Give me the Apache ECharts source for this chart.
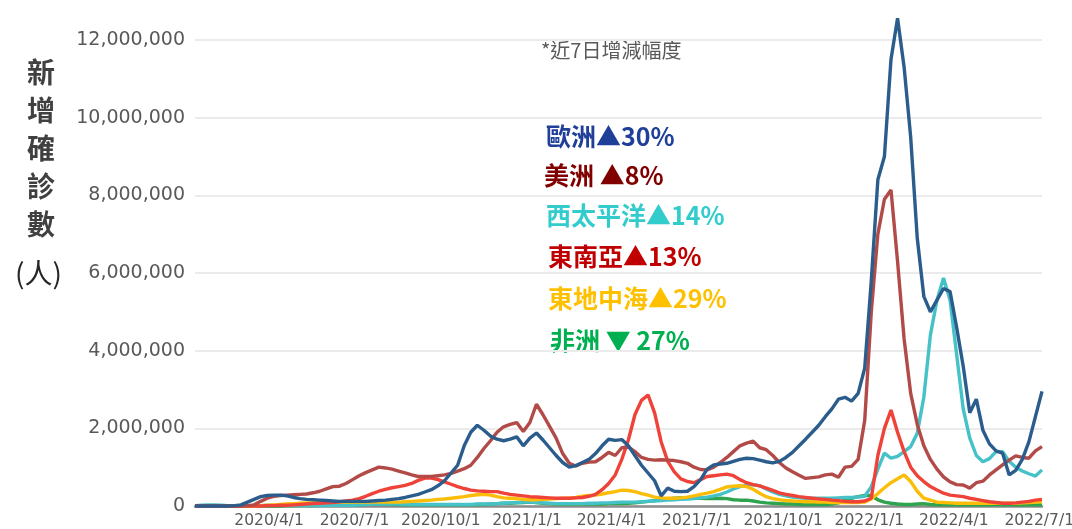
<!DOCTYPE html>
<html>
<head>
<meta charset="utf-8">
<script src="https://cdn.jsdelivr.net/npm/echarts@6/dist/echarts.min.js"></script>
<style>
  html, body { margin: 0; padding: 0; background: #fff; }
  #chart { width: 1072px; height: 529px; }
</style>
</head>
<body>
<div id="chart"></div>
<script>
// 每週新增確診數（單位：百萬人），自 2020/1/13 起逐週
var startDate = new Date(2020, 0, 13);
var weekCount = 130;

var europe = [
  0, 0, 0, 0, 0, 0, 0.01, 0.03, 0.1, 0.17,
  0.24, 0.27, 0.28, 0.28, 0.26, 0.22, 0.19, 0.17, 0.16, 0.15,
  0.14, 0.13, 0.12, 0.12, 0.12, 0.12, 0.12, 0.13, 0.14, 0.15,
  0.17, 0.19, 0.22, 0.26, 0.3, 0.36, 0.42, 0.52, 0.65, 0.85,
  1.05, 1.55, 1.9, 2.08, 1.95, 1.8, 1.72, 1.68, 1.72, 1.78,
  1.55, 1.75, 1.88, 1.7, 1.5, 1.3, 1.12, 1.0, 1.04, 1.12,
  1.2, 1.35, 1.55, 1.72, 1.69, 1.71, 1.55, 1.3, 1.05, 0.85,
  0.65, 0.26, 0.46, 0.38, 0.37, 0.38, 0.5, 0.68, 0.95, 1.06,
  1.08, 1.1, 1.15, 1.2, 1.23, 1.22, 1.18, 1.14, 1.11, 1.15,
  1.25, 1.38, 1.55, 1.72, 1.9, 2.08, 2.3, 2.5, 2.75, 2.8,
  2.7, 2.9, 3.55, 5.8, 8.4, 9.0, 11.5, 12.56, 11.3, 9.5,
  6.9, 5.4, 5.0, 5.3, 5.6, 5.52, 4.6, 3.6, 2.4, 2.75,
  1.95, 1.6, 1.42, 1.36, 0.8, 0.92, 1.2, 1.65, 2.3, 2.95
];
var americas = [
  0, 0, 0, 0, 0, 0, 0, 0, 0.01, 0.03,
  0.12, 0.2, 0.25, 0.27, 0.28, 0.29, 0.3, 0.31, 0.34, 0.38,
  0.44, 0.5, 0.51, 0.58, 0.68, 0.78, 0.86, 0.93, 1.0, 0.98,
  0.95, 0.9, 0.85, 0.8, 0.76, 0.76, 0.76, 0.78, 0.8, 0.84,
  0.9, 0.96, 1.05, 1.25, 1.48, 1.68, 1.9, 2.04, 2.1, 2.15,
  1.92, 2.15, 2.62, 2.35, 2.05, 1.75, 1.35, 1.1, 1.03, 1.1,
  1.13, 1.14, 1.25, 1.38, 1.3, 1.5, 1.52, 1.4, 1.25, 1.2,
  1.18, 1.19, 1.18, 1.17, 1.14, 1.1, 1.0, 0.94, 0.93, 1.0,
  1.12, 1.25, 1.4, 1.55, 1.62, 1.67, 1.5, 1.45, 1.3, 1.12,
  0.98, 0.88, 0.79, 0.71, 0.73, 0.75, 0.8, 0.82, 0.74, 1.0,
  1.02, 1.2, 2.2, 5.0, 7.0, 7.9, 8.14, 6.3, 4.3, 2.9,
  2.1, 1.55, 1.2, 0.95, 0.75, 0.62, 0.55, 0.54, 0.46, 0.6,
  0.64, 0.8, 0.93, 1.06, 1.18, 1.29, 1.25, 1.23, 1.42, 1.53
];
var westPacific = [
  0.01, 0.02, 0.03, 0.03, 0.02, 0.01, 0.01, 0.01, 0.01, 0.01,
  0.01, 0.02, 0.02, 0.02, 0.02, 0.01, 0.01, 0.01, 0.01, 0.01,
  0.01, 0.02, 0.02, 0.02, 0.02, 0.03, 0.04, 0.05, 0.05, 0.05,
  0.05, 0.05, 0.04, 0.04, 0.04, 0.04, 0.04, 0.04, 0.04, 0.04,
  0.04, 0.04, 0.04, 0.05, 0.05, 0.05, 0.06, 0.07, 0.08, 0.09,
  0.1, 0.1, 0.09, 0.08, 0.07, 0.06, 0.06, 0.06, 0.06, 0.06,
  0.07, 0.07, 0.08, 0.08, 0.09, 0.1, 0.1, 0.1, 0.11, 0.12,
  0.13, 0.14, 0.15, 0.16, 0.17, 0.18, 0.19, 0.21, 0.23, 0.26,
  0.3, 0.36, 0.44, 0.5, 0.54, 0.55, 0.52, 0.44, 0.36, 0.3,
  0.26, 0.23, 0.21, 0.2, 0.2, 0.2, 0.2, 0.2, 0.21, 0.22,
  0.22, 0.23, 0.25, 0.5, 0.95, 1.36, 1.23, 1.28, 1.4, 1.53,
  1.87, 2.8, 4.4, 5.3, 5.87, 5.3, 3.9, 2.5, 1.75, 1.3,
  1.14, 1.22, 1.4, 1.4, 1.15, 1.0, 0.9, 0.83, 0.77, 0.93
];
var seAsia = [
  0, 0, 0, 0, 0, 0, 0, 0, 0, 0,
  0, 0.01, 0.01, 0.02, 0.02, 0.03, 0.04, 0.05, 0.06, 0.07,
  0.08, 0.09, 0.11, 0.13, 0.15, 0.19, 0.25, 0.32, 0.38, 0.43,
  0.47, 0.5, 0.53, 0.58, 0.66, 0.72, 0.72, 0.68, 0.62, 0.56,
  0.5, 0.45, 0.41, 0.39, 0.38, 0.37, 0.37, 0.33, 0.3, 0.28,
  0.26, 0.24, 0.23, 0.22, 0.21, 0.2, 0.2, 0.2, 0.21, 0.22,
  0.25, 0.3, 0.42, 0.58, 0.8, 1.2, 1.7, 2.35, 2.72, 2.86,
  2.4, 1.65, 1.15, 0.88, 0.7, 0.63, 0.6, 0.68, 0.76, 0.78,
  0.8, 0.82, 0.78, 0.68, 0.6, 0.55, 0.52, 0.46, 0.4, 0.34,
  0.3, 0.27, 0.24, 0.22, 0.2, 0.18, 0.17, 0.15, 0.14, 0.12,
  0.11, 0.11, 0.13, 0.2, 1.3, 2.0, 2.47, 1.9, 1.4, 1.0,
  0.78, 0.63, 0.5, 0.41, 0.33, 0.28, 0.26, 0.24, 0.2, 0.17,
  0.14, 0.11, 0.09, 0.07, 0.07, 0.08, 0.1, 0.12, 0.15, 0.17
];
var eastMed = [
  0, 0, 0, 0, 0, 0, 0, 0, 0, 0,
  0.01, 0.02, 0.03, 0.04, 0.05, 0.06, 0.07, 0.08, 0.08, 0.09,
  0.1, 0.1, 0.1, 0.1, 0.1, 0.1, 0.1, 0.1, 0.1, 0.1,
  0.1, 0.1, 0.11, 0.12, 0.13, 0.14, 0.15, 0.17, 0.18, 0.2,
  0.22, 0.24, 0.27, 0.29, 0.3, 0.28, 0.24, 0.21, 0.2, 0.19,
  0.17, 0.16, 0.16, 0.17, 0.18, 0.19, 0.2, 0.2, 0.22, 0.25,
  0.27, 0.28, 0.31, 0.34, 0.37, 0.41, 0.4, 0.37, 0.32, 0.28,
  0.23, 0.21, 0.2, 0.2, 0.21, 0.23, 0.26, 0.3, 0.33, 0.37,
  0.43, 0.49, 0.51, 0.52, 0.5, 0.43, 0.33, 0.24, 0.19, 0.16,
  0.14, 0.13, 0.12, 0.11, 0.11, 0.1, 0.1, 0.09, 0.09, 0.09,
  0.09, 0.09, 0.1, 0.18, 0.32, 0.47, 0.6, 0.7, 0.8, 0.63,
  0.38, 0.2, 0.15, 0.1, 0.09, 0.08, 0.07, 0.07, 0.07, 0.07,
  0.07, 0.07, 0.07, 0.07, 0.07, 0.07, 0.08, 0.09, 0.1, 0.11
];
var africa = [
  0, 0, 0, 0, 0, 0, 0, 0, 0, 0,
  0, 0, 0, 0, 0.01, 0.01, 0.01, 0.01, 0.01, 0.02,
  0.02, 0.02, 0.03, 0.03, 0.03, 0.04, 0.04, 0.05, 0.05, 0.05,
  0.04, 0.04, 0.03, 0.03, 0.03, 0.03, 0.03, 0.03, 0.03, 0.03,
  0.03, 0.03, 0.03, 0.04, 0.04, 0.05, 0.06, 0.07, 0.07, 0.08,
  0.09, 0.1, 0.09, 0.07, 0.06, 0.05, 0.05, 0.05, 0.05, 0.05,
  0.05, 0.05, 0.05, 0.06, 0.06, 0.06, 0.07, 0.08, 0.1, 0.12,
  0.14, 0.16, 0.18, 0.2, 0.21, 0.21, 0.2, 0.2, 0.19, 0.19,
  0.2, 0.19, 0.16, 0.15, 0.15, 0.13, 0.1, 0.08, 0.07, 0.06,
  0.05, 0.05, 0.04, 0.04, 0.04, 0.04, 0.04, 0.05, 0.08, 0.15,
  0.2, 0.24, 0.27, 0.27, 0.16, 0.1, 0.07, 0.05, 0.04, 0.04,
  0.05, 0.06, 0.04, 0.03, 0.03, 0.03, 0.03, 0.03, 0.03, 0.03,
  0.03, 0.03, 0.03, 0.03, 0.03, 0.03, 0.03, 0.03, 0.03, 0.03
];

// X 軸刻度標籤（每季第一天）
var tickDates = ['2020/4/1', '2020/7/1', '2020/10/1', '2021/1/1', '2021/4/1',
  '2021/7/1', '2021/10/1', '2022/1/1', '2022/4/1', '2022/7/1'];
var yTicks = [0, 2, 4, 6, 8, 10, 12];

// 右側文字標註
var notes = [
  { text: '歐洲▲30%', color: '#1f3f99' },
  { text: '美洲 ▲8%', color: '#800000' },
  { text: '西太平洋▲14%', color: '#33cccc' },
  { text: '東南亞▲13%', color: '#c00000' },
  { text: '東地中海▲29%', color: '#ffc000' },
  { text: '非洲 ▼ 27%', color: '#00b050' }
];

var DAY = 24 * 3600 * 1000;
var weeks = [];
for (var w = 0; w < weekCount; w++) {
  weeks.push(startDate.getTime() + w * 7 * DAY);
}
var pairs = function (arr) {
  return weeks.map(function (t, i) { return [t, arr[i]]; });
};
var tickTimes = tickDates.map(function (s) {
  var p = s.split('/');
  return new Date(+p[0], +p[1] - 1, +p[2]).getTime();
});

var lineSeries = function (name, data, color) {
  return {
    name: name,
    type: 'line',
    data: pairs(data),
    showSymbol: false,
    symbol: 'none',
    clip: false,
    lineStyle: { color: color, width: 3.4 },
    itemStyle: { color: color },
    animation: false
  };
};

var noteX = [546, 544, 546, 548, 548, 550];
var noteY = [141, 180, 220, 261, 303, 345];
var graphics = [];
'新增確診數'.split('').forEach(function (ch, i) {
  graphics.push({
    type: 'text', left: 27, top: 58 + i * 38,
    style: { text: ch, fill: '#404040', font: 'bold 28px "Noto Sans CJK TC"' }
  });
});
graphics.push({
  type: 'text', left: 15, top: 259,
  style: { text: '(人)', fill: '#262626', font: '28px "Noto Sans CJK TC"' }
});
graphics.push({
  type: 'text', left: 541, top: 40,
  style: { text: '*近7日增減幅度', fill: '#595959', font: '20px "Noto Sans CJK TC"' }
});
notes.forEach(function (n, i) {
  graphics.push({
    type: 'text', left: noteX[i], top: noteY[i] - 17,
    style: { text: n.text, fill: n.color, font: 'bold 25px "Noto Sans CJK TC"' }
  });
});

var myChart = echarts.init(document.getElementById('chart'), null, { renderer: 'canvas' });

var option = {
  backgroundColor: '#ffffff',
  animation: false,
  grid: { left: 195, right: 30, top: 40, bottom: 23, containLabel: false, outerBoundsMode: 'none' },
  xAxis: {
    type: 'value',
    min: weeks[0],
    max: weeks[weeks.length - 1],
    axisLine: { show: true, onZero: false, lineStyle: { color: '#8c8c8c', width: 2.5 } },
    axisTick: { show: false },
    splitLine: { show: false },
    axisLabel: {
      customValues: tickTimes,
      color: '#595959',
      fontFamily: 'DejaVu Sans',
      fontSize: 15.5,
      margin: 7,
      formatter: function (v) {
        var d = new Date(v);
        return d.getFullYear() + '/' + (d.getMonth() + 1) + '/' + d.getDate();
      }
    }
  },
  yAxis: {
    type: 'value',
    min: yTicks[0],
    max: yTicks[yTicks.length - 1],
    interval: 2,
    axisLine: { show: false },
    axisTick: { show: false },
    splitLine: { show: true, lineStyle: { color: '#ebebeb', width: 2 } },
    axisLabel: {
      color: '#595959',
      fontFamily: 'DejaVu Sans',
      fontSize: 19,
      margin: 10,
      formatter: function (v) { return (v * 1000000).toLocaleString('en-US'); }
    }
  },
  series: [
    lineSeries('非洲', africa, '#2ea44f'),
    lineSeries('西太平洋', westPacific, '#45c1c8'),
    lineSeries('東地中海', eastMed, '#fbbd08'),
    lineSeries('東南亞', seAsia, '#ef4339'),
    lineSeries('美洲', americas, '#b24a48'),
    lineSeries('歐洲', europe, '#2b5d8c')
  ],
  graphic: graphics
};

myChart.setOption(option);
</script>
</body>
</html>
